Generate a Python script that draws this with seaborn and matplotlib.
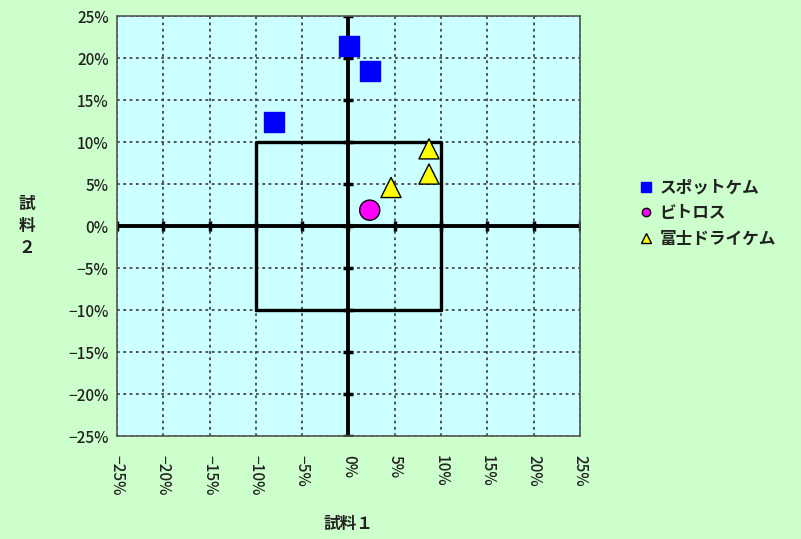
import matplotlib
matplotlib.use("Agg")
import matplotlib.pyplot as plt
from matplotlib.lines import Line2D
import pandas as pd
import seaborn as sns

# data (percent)
products = ["スポットケム", "ビトロス", "富士ドライケム"]
spot_x = [0.1, 2.3, -8.0]
spot_y = [21.4, 18.5, 12.4]
vitros_x = [2.3]
vitros_y = [1.9]
fuji_x = [4.6, 8.7, 8.7]
fuji_y = [4.6, 9.2, 6.2]
box_limit = 10
ticks = list(range(-25, 30, 5))

df = pd.DataFrame({
    "x": spot_x + vitros_x + fuji_x,
    "y": spot_y + vitros_y + fuji_y,
    "product": [products[0]] * len(spot_x) + [products[1]] * len(vitros_x) + [products[2]] * len(fuji_x),
})

sns.set_style("white")
plt.rcParams["font.family"] = ["Noto Sans CJK JP", "DejaVu Sans"]
text_color = "#222222"

fig = plt.figure(figsize=(8.01, 5.39), dpi=100, facecolor="#ccffcc")
ax = fig.add_axes([0.146, 0.191, 0.578, 0.779])
ax.set_facecolor("#ccffff")

ax.set_xlim(-25, 25)
ax.set_ylim(-25, 25)
ax.set_xticks(ticks)
ax.set_yticks(ticks)
labels = [f"{t}%".replace("-", "\u2212") for t in ticks]
ax.set_xticklabels(labels, rotation=-90, fontsize=11, color=text_color, fontweight="medium")
ax.set_yticklabels(labels, fontsize=11, color=text_color, fontweight="medium")
ax.tick_params(axis="x", length=0, pad=14)
ax.tick_params(axis="y", length=0, pad=6)
ax.grid(True, linestyle=(0, (1.5, 2)), color="#444444", linewidth=1.3)
for s in ax.spines.values():
    s.set_color("#555555")
    s.set_linewidth(1.2)

# central axes
ax.axhline(0, color="black", lw=2.8, zorder=2)
ax.axvline(0, color="black", lw=2.8, zorder=2)
ax.plot([0] * len(ticks), ticks, ls="none", marker="_", ms=7, mew=2.5, color="black", zorder=2)
ax.plot(ticks, [0] * len(ticks), ls="none", marker="|", ms=7, mew=2.5, color="black", zorder=2)

# ±10% box
ax.plot([-box_limit, box_limit, box_limit, -box_limit, -box_limit],
        [-box_limit, -box_limit, box_limit, box_limit, -box_limit],
        color="black", lw=2.4, zorder=2)

sns.scatterplot(data=df, x="x", y="y", hue="product", style="product",
                hue_order=products, style_order=products,
                palette={products[0]: "#0000ff", products[1]: "#ff00ff", products[2]: "#ffff00"},
                markers={products[0]: "s", products[1]: "o", products[2]: "^"},
                s=210, ax=ax, zorder=3, legend=False)
pts = ax.collections[-1]
pts.set_edgecolors(["#0000ff" if p == products[0] else "black" for p in df["product"]])
pts.set_linewidths(1.0)

ax.set_xlabel("試料１", fontsize=12, labelpad=14, color=text_color, fontweight="bold")
ax.set_ylabel("試\n料\n２", fontsize=12, rotation=0, labelpad=30, va="center",
              linespacing=1.3, color=text_color, fontweight="bold")

handles = [
    Line2D([], [], ls="none", marker="s", ms=7, mfc="#0000ff", mec="#0000ff", label=products[0]),
    Line2D([], [], ls="none", marker="o", ms=6, mfc="#ff00ff", mec="black", label=products[1]),
    Line2D([], [], ls="none", marker="^", ms=7, mfc="#ffff00", mec="black", label=products[2]),
]
leg = fig.legend(handles=handles, loc="center left", bbox_to_anchor=(0.78, 0.605), frameon=False,
                 fontsize=12, handletextpad=0.4, labelspacing=0.45, handlelength=0.8)
for t in leg.get_texts():
    t.set_color(text_color)
    t.set_fontweight("bold")

fig.savefig("out.png", dpi=100, facecolor=fig.get_facecolor())
